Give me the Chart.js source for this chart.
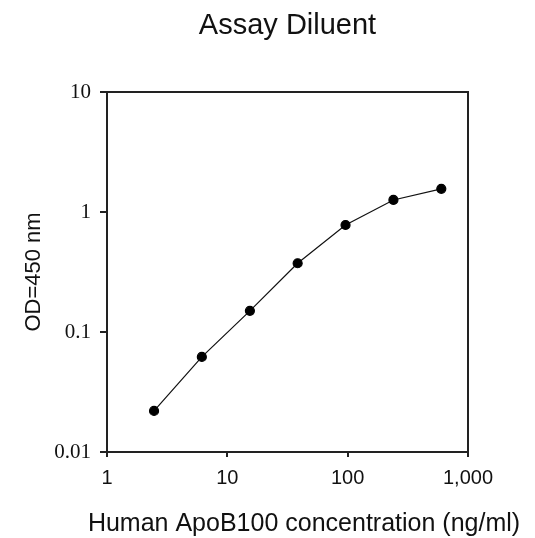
<!DOCTYPE html>
<html>
<head>
<meta charset="utf-8">
<script src="https://cdn.jsdelivr.net/npm/chart.js@4/dist/chart.umd.min.js"></script>
<style>
  html, body { margin: 0; padding: 0; background: #fff; }
  #wrap { width: 535px; height: 538px; }
</style>
</head>
<body>
<div id="wrap"><canvas id="curve"></canvas></div>
<script>
// ── Data ─────────────────────────────────────────────────────
const concentration = [2.46, 6.14, 15.4, 38.4, 96, 240, 600];   // ng/ml
const odValues      = [0.022, 0.062, 0.150, 0.374, 0.779, 1.26, 1.56];

const xTickValues = [1, 10, 100, 1000];
const xTickLabels = ['1', '10', '100', '1,000'];
const yTickValues = [0.01, 0.1, 1, 10];
const yTickLabels = ['0.01', '0.1', '1', '10'];

const xTitle = 'Human ApoB100 concentration (ng/ml)';

// ── Helpers ──────────────────────────────────────────────────
const onlyTicks = (values) => (scale) => {
    scale.ticks = values.map(v => ({ value: v }));
};

// plot box (top + right edges) and x title placed like the original
const boxPlugin = {
    id: 'box',
    afterDraw(chart) {
        const { ctx, chartArea: a } = chart;
        ctx.save();
        ctx.strokeStyle = '#222';
        ctx.lineWidth = 2;
        ctx.beginPath();
        ctx.moveTo(a.left, a.top);
        ctx.lineTo(a.right, a.top);
        ctx.lineTo(a.right, a.bottom);
        ctx.stroke();

        ctx.fillStyle = '#111';
        ctx.font = "25px 'Liberation Sans', Arial, sans-serif";
        ctx.textAlign = 'center';
        ctx.textBaseline = 'alphabetic';
        ctx.fillText(xTitle, 304, 531);
        ctx.restore();
    }
};

// ── Chart ────────────────────────────────────────────────────
const ctx = document.getElementById('curve').getContext('2d');

new Chart(ctx, {
    type: 'line',
    data: {
        datasets: [{
            label: 'Assay Diluent',
            data: concentration.map((c, i) => ({ x: c, y: odValues[i] })),
            borderColor: '#111',
            borderWidth: 1.2,
            backgroundColor: '#000',
            pointBackgroundColor: '#000',
            pointBorderColor: '#000',
            pointRadius: 4.5,
            tension: 0,
            fill: false,
        }],
    },
    options: {
        responsive: true,
        maintainAspectRatio: false,
        animation: false,
        layout: { padding: { left: 0, right: 67, top: 0, bottom: 0 } },
        scales: {
            x: {
                type: 'logarithmic',
                min: 1,
                max: 1000,
                afterBuildTicks: onlyTicks(xTickValues),
                afterFit: s => { s.height = 86; },
                ticks: {
                    color: '#111',
                    font: { family: "'Liberation Sans', Arial, sans-serif", size: 20 },
                    padding: 9,
                    maxRotation: 0,
                    autoSkip: false,
                    callback: v => xTickLabels[xTickValues.indexOf(v)] ?? '',
                },
                grid: { display: true, drawOnChartArea: false, drawTicks: true, tickLength: 5, color: '#222', lineWidth: 2 },
                border: { display: true, color: '#222', width: 2 },
            },
            y: {
                type: 'logarithmic',
                min: 0.01,
                max: 10,
                afterBuildTicks: onlyTicks(yTickValues),
                afterFit: s => { s.width = 107; },
                ticks: {
                    color: '#111',
                    font: { family: "'Liberation Serif', 'Times New Roman', serif", size: 21 },
                    padding: 9,
                    autoSkip: false,
                    callback: v => yTickLabels[yTickValues.indexOf(v)] ?? '',
                },
                grid: { display: true, drawOnChartArea: false, drawTicks: true, tickLength: 7, color: '#222', lineWidth: 2 },
                border: { display: true, color: '#222', width: 2 },
                title: {
                    display: true,
                    text: 'OD=450 nm',
                    color: '#111',
                    font: { family: "'Liberation Sans', Arial, sans-serif", size: 22, lineHeight: 1.2 },
                    padding: { top: 21, bottom: 0 },
                },
            },
        },
        plugins: {
            legend: { display: false },
            tooltip: { enabled: false },
            title: {
                display: true,
                text: 'Assay Diluent',
                fullSize: false,
                color: '#111',
                font: { family: "'Liberation Sans', Arial, sans-serif", size: 29, weight: 'normal', lineHeight: 1.2 },
                padding: { top: 9, bottom: 48.2 },
            },
        },
    },
    plugins: [boxPlugin],
});
</script>
</body>
</html>
